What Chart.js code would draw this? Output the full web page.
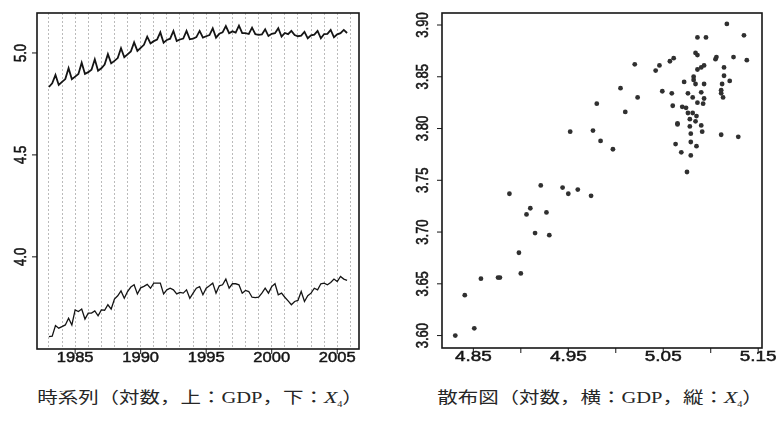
<!DOCTYPE html>
<html>
<head>
<meta charset="utf-8">
<script src="https://cdn.jsdelivr.net/npm/chart.js@4"></script>
<style>
  body { margin: 0; background: #fff; width: 778px; height: 423px; overflow: hidden; position: relative; }
  .panel { position: absolute; top: 0; width: 389px; height: 372px; }
  .cap {
    position: absolute; top: 396px;
    font-family: "Liberation Serif", "Noto Sans CJK JP", serif;
    font-size: 16px; color: #262626; white-space: nowrap;
    transform: translate(-50%, -50%) scaleX(1.28);
    transform-origin: center;
  }
  .cap i { font-size: 17px; }
  .cap sub { font-size: 8px; vertical-align: -4px; }
</style>
</head>
<body>
<canvas id="ts" class="panel" width="389" height="372" style="left:0"></canvas>
<canvas id="sc" class="panel" width="389" height="372" style="left:389px"></canvas>
<div class="cap" style="left:200px">時系列（対数，上：GDP，下：<i>X</i><sub>4</sub>）</div>
<div class="cap" style="left:600px">散布図（対数，横：GDP，縦：<i>X</i><sub>4</sub>）</div>
<script>
// Quarterly series, log scale, starting 1983 Q1
const startYear = 1983;
const gdpLog = [
  4.833, 4.851, 4.892, 4.843,
  4.858, 4.872, 4.925, 4.871,
  4.884, 4.897, 4.952, 4.897,
  4.906, 4.918, 4.969, 4.913,
  4.925, 4.943, 4.994, 4.949,
  4.961, 4.975, 5.023, 4.979,
  4.993, 5.007, 5.052, 5.010,
  5.025, 5.040, 5.080, 5.047,
  5.058, 5.066, 5.101, 5.050,
  5.064, 5.070, 5.108, 5.059,
  5.066, 5.071, 5.108, 5.067,
  5.070, 5.078, 5.108, 5.075,
  5.082, 5.088, 5.121, 5.075,
  5.094, 5.101, 5.132, 5.097,
  5.106, 5.100, 5.134, 5.097,
  5.097, 5.093, 5.124, 5.092,
  5.089, 5.091, 5.116, 5.083,
  5.094, 5.097, 5.121, 5.080,
  5.098, 5.092, 5.108, 5.088,
  5.082, 5.085, 5.104, 5.072,
  5.086, 5.090, 5.108, 5.072,
  5.093, 5.094, 5.113, 5.077,
  5.091, 5.097, 5.113, 5.098
];
const x4Log = [
  3.609, 3.611, 3.663, 3.650,
  3.658, 3.666, 3.699, 3.666,
  3.740, 3.732, 3.744, 3.695,
  3.724, 3.724, 3.735, 3.711,
  3.740, 3.738, 3.765, 3.744,
  3.793, 3.809, 3.833, 3.797,
  3.830, 3.852, 3.863, 3.818,
  3.848, 3.855, 3.865, 3.846,
  3.871, 3.871, 3.871, 3.818,
  3.838, 3.846, 3.838, 3.818,
  3.826, 3.822, 3.838, 3.797,
  3.822, 3.846, 3.854, 3.814,
  3.846, 3.858, 3.871, 3.822,
  3.858, 3.863, 3.891, 3.846,
  3.868, 3.868, 3.863, 3.822,
  3.835, 3.830, 3.802, 3.800,
  3.802, 3.822, 3.846, 3.822,
  3.854, 3.868, 3.814, 3.822,
  3.802, 3.784, 3.765, 3.781,
  3.786, 3.830, 3.781, 3.809,
  3.822, 3.846, 3.838, 3.868,
  3.871, 3.863, 3.874, 3.891,
  3.879, 3.904, 3.891, 3.885
];

// Scatter pairs (log GDP, log X4)
const scatterGdp = [
  4.831, 4.841, 4.851, 4.858, 4.876, 4.878, 4.888, 4.898, 4.900, 4.906,
  4.910, 4.915, 4.921, 4.927, 4.930, 4.944, 4.950, 4.960, 4.974, 4.952,
  5.117, 5.086, 5.095, 5.135, 5.020, 5.046, 5.042, 5.057, 5.061, 5.084,
  5.086, 5.105, 5.106, 5.124, 5.138, 5.086, 5.090, 5.093, 5.114, 5.114,
  5.120, 5.082, 5.082, 5.072, 5.084, 5.093, 5.112, 5.005, 5.111, 5.111,
  5.113, 5.049, 5.059, 5.076, 5.090, 5.081, 5.093, 5.023, 4.980, 5.086,
  5.092, 5.060, 5.070, 5.074, 5.010, 5.076, 5.081, 5.085, 5.078, 5.084,
  5.065, 5.065, 5.078, 5.090, 4.976, 5.091, 5.079, 5.111, 5.129, 4.984,
  5.063, 5.079, 5.085, 4.997, 5.069, 5.079, 5.075
];
const scatterX4 = [
  3.600, 3.639, 3.607, 3.655, 3.656, 3.656, 3.737, 3.680, 3.660, 3.717,
  3.723, 3.699, 3.745, 3.719, 3.697, 3.743, 3.737, 3.741, 3.735, 3.797,
  3.901, 3.888, 3.888, 3.890, 3.862, 3.861, 3.856, 3.865, 3.868, 3.873,
  3.871, 3.867, 3.869, 3.869, 3.866, 3.857, 3.859, 3.861, 3.859, 3.851,
  3.846, 3.850, 3.847, 3.845, 3.843, 3.843, 3.843, 3.839, 3.837, 3.834,
  3.830, 3.836, 3.834, 3.834, 3.835, 3.830, 3.829, 3.830, 3.824, 3.825,
  3.824, 3.822, 3.821, 3.820, 3.816, 3.815, 3.815, 3.812, 3.809, 3.807,
  3.805, 3.804, 3.802, 3.803, 3.798, 3.797, 3.795, 3.794, 3.792, 3.788,
  3.785, 3.787, 3.783, 3.780, 3.777, 3.774, 3.758
];

// Axis tick labels
const tsYearTicks = [1985, 1990, 1995, 2000, 2005];
const tsValueTicks = ['4.0', '4.5', '5.0'];
const scGdpTicks = ['4.85', '4.90', '4.95', '5.00', '5.05', '5.10', '5.15'];
const scGdpLabelled = ['4.85', '4.95', '5.05', '5.15'];
const scX4Ticks = ['3.60', '3.65', '3.70', '3.75', '3.80', '3.85', '3.90'];

const INK = '#161616';

function wideText(ctx, text, x, y, stretch, upright) {
  ctx.save();
  ctx.translate(x, y);
  ctx.scale(stretch, 1);
  if (upright) ctx.rotate(-Math.PI / 2);
  ctx.fillText(text, 0, 0);
  ctx.strokeText(text, 0, 0);
  ctx.restore();
}

// Draws the box frame, outside tick marks and widened tick labels
function framePlugin(spec) {
  return {
    id: 'frame',
    afterDraw(chart) {
      const ctx = chart.ctx;
      const a = chart.chartArea;
      const xs = chart.scales.x, ys = chart.scales.y;
      ctx.save();
      ctx.strokeStyle = INK;
      ctx.fillStyle = INK;
      ctx.lineWidth = 1.6;
      ctx.strokeRect(a.left, a.top, a.right - a.left, a.bottom - a.top);
      ctx.lineWidth = 1;
      ctx.beginPath();
      spec.xTicks.forEach(t => {
        const px = xs.getPixelForValue(Number(t));
        ctx.moveTo(px, a.bottom);
        ctx.lineTo(px, a.bottom + spec.tickLen);
      });
      spec.yTicks.forEach(t => {
        const py = ys.getPixelForValue(Number(t));
        ctx.moveTo(a.left - spec.tickLen, py);
        ctx.lineTo(a.left, py);
      });
      ctx.stroke();
      ctx.textAlign = 'center';
      ctx.textBaseline = 'middle';
      ctx.lineWidth = 0.45;
      ctx.font = spec.xFont;
      spec.xLabels.forEach(t => {
        wideText(ctx, String(t), xs.getPixelForValue(Number(t)), a.bottom + spec.xLabelOffset, spec.xStretch, false);
      });
      ctx.font = spec.yFont;
      spec.yTicks.forEach(t => {
        wideText(ctx, String(t), a.left - spec.yLabelOffset, ys.getPixelForValue(Number(t)), spec.yStretch, true);
      });
      ctx.restore();
    }
  };
}

const baseOptions = {
  animation: false,
  responsive: false,
  events: [],
  plugins: { legend: { display: false }, tooltip: { enabled: false } }
};

// Time series panel
new Chart(document.getElementById('ts'), {
  type: 'line',
  data: {
    datasets: [
      {
        data: gdpLog.map((v, i) => ({ x: startYear + i / 4, y: v })),
        borderColor: '#151515', borderWidth: 1.8, pointRadius: 0, tension: 0
      },
      {
        data: x4Log.map((v, i) => ({ x: startYear + i / 4, y: v })),
        borderColor: '#151515', borderWidth: 1.3, pointRadius: 0, tension: 0
      }
    ]
  },
  options: Object.assign({}, baseOptions, {
    layout: { padding: { top: 13, right: 30, left: 0, bottom: 0 } },
    scales: {
      x: {
        type: 'linear', min: 1982.09, max: 2006.66,
        afterFit: s => { s.height = 23; },
        ticks: { display: false, stepSize: 1, includeBounds: false },
        grid: { drawTicks: false, color: 'rgba(120,120,120,0.5)', lineWidth: 1 },
        border: { display: false, dash: [2, 2] }
      },
      y: {
        type: 'linear', min: 3.548, max: 5.196,
        afterFit: s => { s.width = 37; },
        ticks: { display: false },
        grid: { display: false },
        border: { display: false }
      }
    }
  }),
  plugins: [framePlugin({
    xTicks: tsYearTicks, xLabels: tsYearTicks, yTicks: tsValueTicks,
    tickLen: 5, xLabelOffset: 9, yLabelOffset: 16,
    xFont: '14px "Liberation Sans", Arial, sans-serif', xStretch: 1.18,
    yFont: '13px "Liberation Sans", Arial, sans-serif', yStretch: 1.3
  })]
});

// Scatter panel
new Chart(document.getElementById('sc'), {
  type: 'scatter',
  data: {
    datasets: [{
      data: scatterGdp.map((g, i) => ({ x: g, y: scatterX4[i] })),
      pointRadius: 2.4, pointBackgroundColor: '#303030', pointBorderWidth: 0
    }]
  },
  options: Object.assign({}, baseOptions, {
    layout: { padding: { top: 13, right: 16, left: 0, bottom: 0 } },
    scales: {
      x: {
        type: 'linear', min: 4.817, max: 5.154,
        afterFit: s => { s.height = 24; },
        ticks: { display: false },
        grid: { display: false },
        border: { display: false }
      },
      y: {
        type: 'linear', min: 3.588, max: 3.9116,
        afterFit: s => { s.width = 53; },
        ticks: { display: false },
        grid: { display: false },
        border: { display: false }
      }
    }
  }),
  plugins: [framePlugin({
    xTicks: scGdpTicks, xLabels: scGdpLabelled, yTicks: scX4Ticks,
    tickLen: 5, xLabelOffset: 9, yLabelOffset: 19,
    xFont: '14px "Liberation Sans", Arial, sans-serif', xStretch: 1.35,
    yFont: '13px "Liberation Sans", Arial, sans-serif', yStretch: 1.3
  })]
});
</script>
</body>
</html>
